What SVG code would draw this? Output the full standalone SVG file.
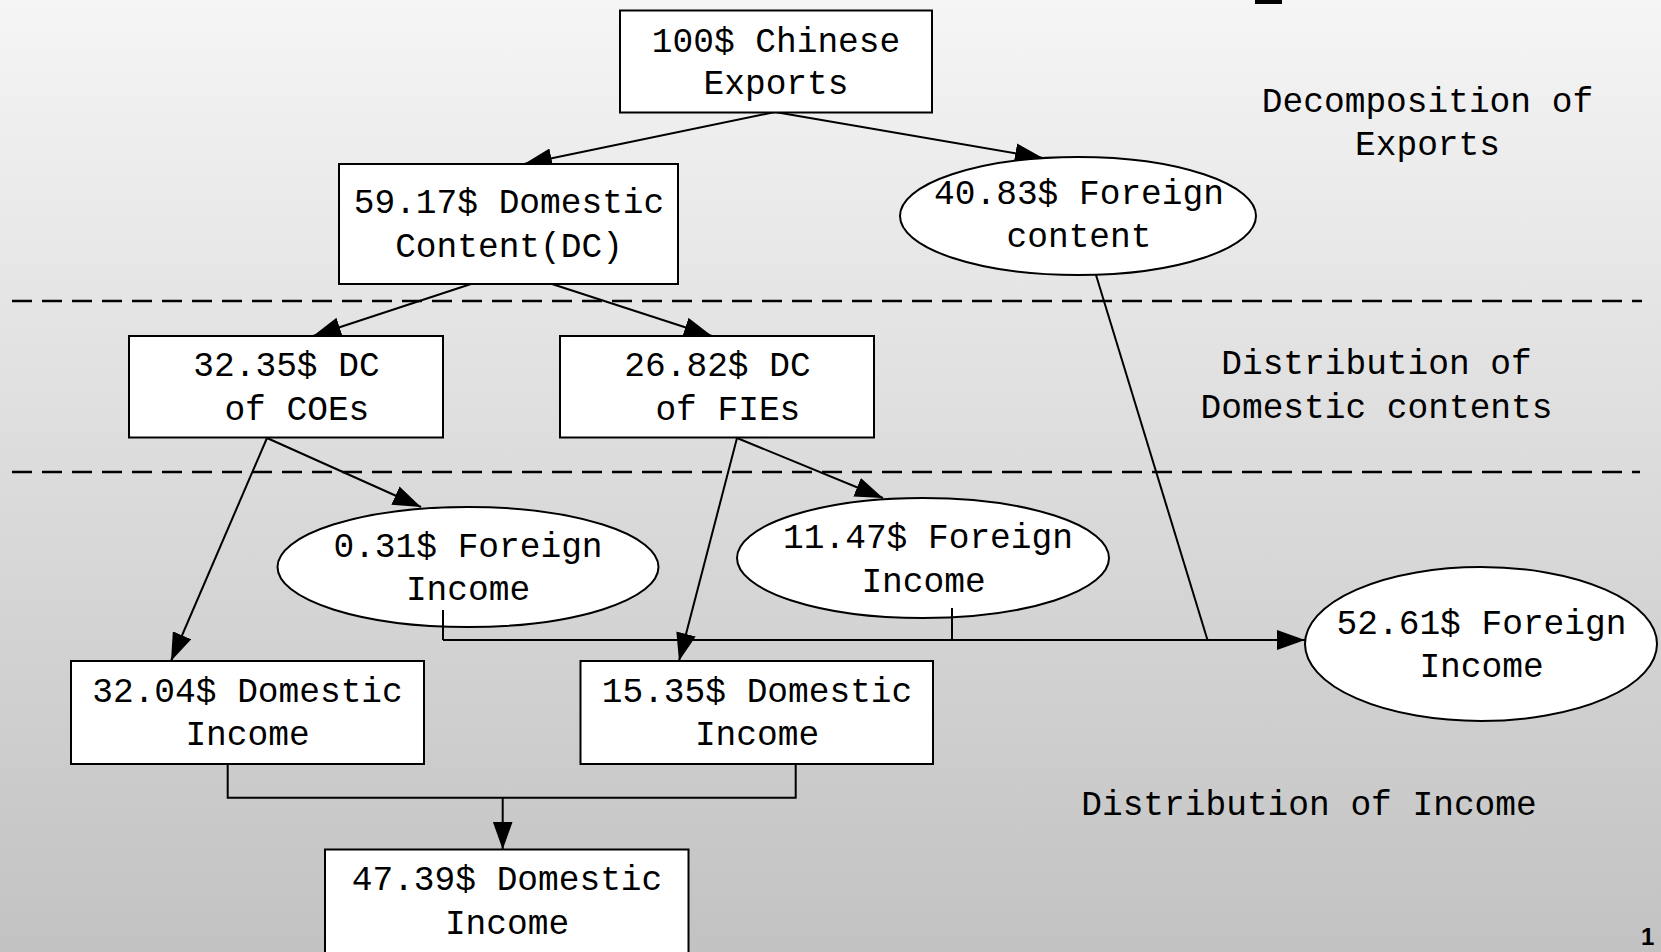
<svg xmlns="http://www.w3.org/2000/svg" width="1661" height="952" viewBox="0 0 1661 952">
<defs>
<linearGradient id="bg" x1="0" y1="0" x2="0" y2="1">
<stop offset="0" stop-color="#f5f5f5"/>
<stop offset="1" stop-color="#c2c2c2"/>
</linearGradient>
<marker id="arr" markerUnits="userSpaceOnUse" markerWidth="28" markerHeight="20" refX="28" refY="10" orient="auto" viewBox="0 0 28 20">
<path d="M0,0 L28,10 L0,20 z" fill="#000"/>
</marker>
<style>
.box{fill:#fff;stroke:#000;stroke-width:2}
.t{font-family:"Liberation Mono","DejaVu Sans Mono",monospace;font-size:34.5px;fill:#000;text-anchor:middle}
.c{fill:none;stroke:#000;stroke-width:2}
.a{marker-end:url(#arr)}
.d{fill:none;stroke:#000;stroke-width:2.5;stroke-dasharray:20 10}
</style>
</defs>
<rect x="0" y="0" width="1661" height="952" fill="url(#bg)"/>
<rect x="1255" y="0" width="27" height="4" fill="#000"/>

<g id="separators">
<line class="d" x1="12" y1="301" x2="1642" y2="301"/>
<line class="d" x1="12" y1="472" x2="1640" y2="472"/>
</g>

<g id="connectors">
<line class="c a" x1="775" y1="112" x2="524" y2="164"/>
<line class="c a" x1="775" y1="112" x2="1043" y2="158"/>
<line class="c a" x1="471" y1="284" x2="313" y2="336"/>
<line class="c a" x1="552" y1="284" x2="712" y2="336"/>
<line class="c a" x1="267" y1="438" x2="421" y2="507"/>
<line class="c a" x1="267" y1="438" x2="171" y2="661"/>
<line class="c a" x1="737" y1="438" x2="883" y2="498"/>
<line class="c a" x1="737" y1="438" x2="679" y2="661"/>
<line class="c" x1="1096" y1="275" x2="1207.5" y2="640"/>
<polyline class="c" points="227.7,764 227.7,797.7 795.7,797.7 795.7,764"/>
<line class="c a" x1="502.7" y1="797.7" x2="502.7" y2="849.5"/>
</g>

<g id="n_exports">
<rect class="box" x="620" y="10.5" width="312" height="102"/>
<text class="t" x="776" y="51.5">100$ Chinese</text>
<text class="t" x="776" y="94">Exports</text>
</g>
<g id="n_dc">
<rect class="box" x="339" y="164" width="339" height="120"/>
<text class="t" x="509" y="213">59.17$ Domestic</text>
<text class="t" x="509" y="256.5">Content(DC)</text>
</g>
<g id="n_fc">
<ellipse class="box" cx="1078" cy="216" rx="178" ry="59"/>
<text class="t" x="1079" y="204">40.83$ Foreign</text>
<text class="t" x="1079" y="247">content</text>
</g>
<g id="n_coe">
<rect class="box" x="129" y="336" width="314" height="101.5"/>
<text class="t" x="286.5" y="376">32.35$ DC</text>
<text class="t" x="286.5" y="420">&#160;of COEs</text>
</g>
<g id="n_fie">
<rect class="box" x="560" y="336" width="314" height="101.5"/>
<text class="t" x="717.5" y="376">26.82$ DC</text>
<text class="t" x="717.5" y="420">&#160;of FIEs</text>
</g>
<g id="n_fi1">
<ellipse class="box" cx="468" cy="567" rx="190.5" ry="60"/>
<text class="t" x="468" y="556.5">0.31$ Foreign</text>
<text class="t" x="468" y="600">Income</text>
</g>
<g id="n_fi2">
<ellipse class="box" cx="923" cy="558" rx="186" ry="60"/>
<text class="t" x="928" y="548">11.47$ Foreign</text>
<text class="t" x="923.5" y="591.5">Income</text>
</g>
<g id="stubs">
<line class="c" x1="443" y1="610" x2="443" y2="640"/>
<line class="c" x1="952" y1="608" x2="952" y2="640"/>
<line class="c a" x1="443" y1="640" x2="1305" y2="640"/>
</g>
<g id="n_fi3">
<ellipse class="box" cx="1481" cy="644" rx="176" ry="77"/>
<text class="t" x="1481.5" y="634">52.61$ Foreign</text>
<text class="t" x="1481.5" y="677">Income</text>
</g>
<g id="n_di1">
<rect class="box" x="71" y="661" width="353" height="103"/>
<text class="t" x="247.5" y="701.5">32.04$ Domestic</text>
<text class="t" x="247.5" y="745">Income</text>
</g>
<g id="n_di2">
<rect class="box" x="580.5" y="661" width="352.5" height="103"/>
<text class="t" x="757" y="701.5">15.35$ Domestic</text>
<text class="t" x="757" y="745">Income</text>
</g>
<g id="n_di3">
<rect class="box" x="325" y="849.5" width="363.5" height="110"/>
<text class="t" x="507" y="890">47.39$ Domestic</text>
<text class="t" x="507" y="933.5">Income</text>
</g>

<g id="labels">
<text class="t" x="1427.5" y="111.5">Decomposition of</text>
<text class="t" x="1427.5" y="155">Exports</text>
<text class="t" x="1376.5" y="374">Distribution of</text>
<text class="t" x="1376.5" y="418">Domestic contents</text>
<text class="t" x="1309" y="815">Distribution of Income</text>
<text x="1641" y="945" font-family="Liberation Sans, Arial, sans-serif" font-size="24" font-weight="bold" fill="#000">1</text>
</g>
</svg>
